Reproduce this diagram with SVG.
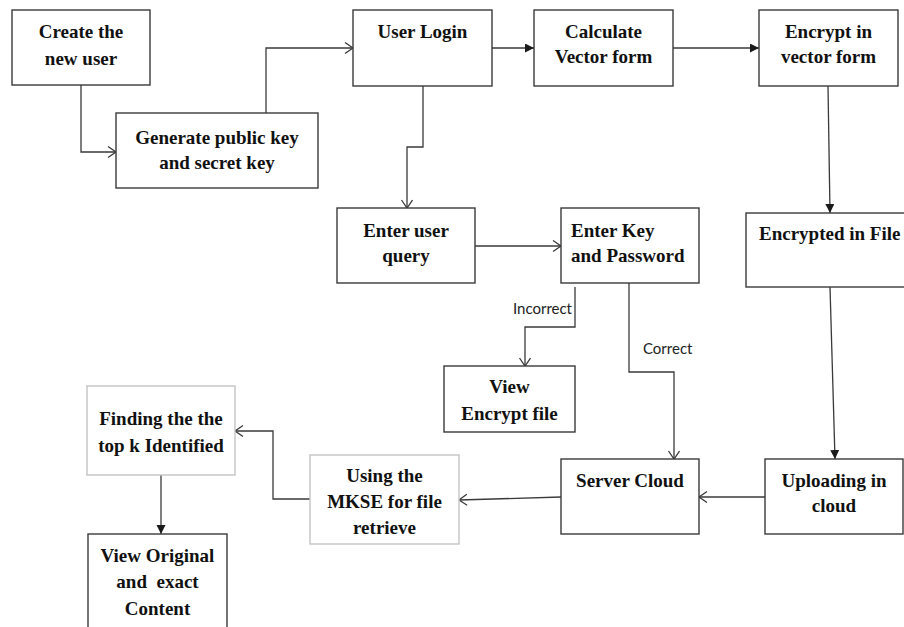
<svg xmlns="http://www.w3.org/2000/svg" width="904" height="627" viewBox="0 0 904 627">
<style>
.box{fill:#fff;stroke:#3a3a3a;stroke-width:1.4}
.lbox{fill:#fff;stroke:#c4c4c4;stroke-width:1.4}
.t{font-family:"Liberation Serif","Times New Roman",serif;font-weight:bold;font-size:19px;fill:#111;text-anchor:middle}
.ts{text-anchor:start}
.c{fill:none;stroke:#3a3a3a;stroke-width:1.3}
.o{marker-end:url(#open)}
.f{marker-end:url(#fill)}
.lab{font-family:Lato,"Liberation Sans",sans-serif;font-size:15px;fill:#222}
</style>
<defs>
<marker id="open" markerUnits="userSpaceOnUse" markerWidth="12" markerHeight="14" refX="9" refY="6" orient="auto">
<path d="M1,0.5 L9,6 L1,11.5" fill="none" stroke="#3a3a3a" stroke-width="1.3"/>
</marker>
<marker id="fill" markerUnits="userSpaceOnUse" markerWidth="12" markerHeight="12" refX="9" refY="4.5" orient="auto">
<path d="M0,0 L9,4.5 L0,9 z" fill="#1a1a1a"/>
</marker>
</defs>
<rect width="904" height="627" fill="#fff"/>
<g id="connectors">
<path class="c o" d="M81,85 V152 H116"/>
<path class="c o" d="M266,113 V48 H353"/>
<path class="c f" d="M492,48 H534"/>
<path class="c f" d="M673,48 H759"/>
<path class="c o" d="M423,86 V147 H407 V208"/>
<path class="c f" d="M828,86 L830,213"/>
<path class="c o" d="M475,246 H561"/>
<path class="c o" d="M575,287 V327 H525 V366"/>
<path class="c o" d="M629,283 V372 H674 V459"/>
<path class="c f" d="M830,287 L835,459"/>
<path class="c o" d="M765,497 H699"/>
<path class="c o" d="M561,497 L459,500"/>
<path class="c o" d="M310,499 H273 V431 H235"/>
<path class="c f" d="M161,475 V534"/>
<text class="lab" x="572" y="314" text-anchor="end">Incorrect</text>
<text class="lab" x="643" y="354">Correct</text>
</g>
<g id="create">
<rect class="box" x="12" y="10" width="138" height="75"/>
<text class="t" x="81" y="38">Create the</text>
<text class="t" x="81" y="65">new user</text>
</g>
<g id="generate">
<rect class="box" x="116" y="113" width="202" height="75"/>
<text class="t" x="217" y="144">Generate public key</text>
<text class="t" x="217" y="169">and secret key</text>
</g>
<g id="login">
<rect class="box" x="353" y="10" width="139" height="76"/>
<text class="t" x="422.5" y="38">User Login</text>
</g>
<g id="calculate">
<rect class="box" x="534" y="10" width="139" height="76"/>
<text class="t" x="603.5" y="38">Calculate</text>
<text class="t" x="603.5" y="63">Vector form</text>
</g>
<g id="encrypt">
<rect class="box" x="759" y="10" width="139" height="76"/>
<text class="t" x="828.5" y="38">Encrypt in</text>
<text class="t" x="828.5" y="63">vector form</text>
</g>
<g id="query">
<rect class="box" x="337" y="208" width="138" height="75"/>
<text class="t" x="406" y="237">Enter user</text>
<text class="t" x="406" y="262">query</text>
</g>
<g id="keypass">
<rect class="box" x="561" y="208" width="138" height="75"/>
<text class="t ts" x="571" y="237">Enter Key</text>
<text class="t ts" x="571" y="262">and Password</text>
</g>
<g id="encfile">
<rect class="box" x="746" y="213" width="170" height="74"/>
<text class="t ts" x="759" y="240">Encrypted in File</text>
</g>
<g id="viewenc">
<rect class="box" x="444" y="366" width="131" height="66"/>
<text class="t" x="509.5" y="393">View</text>
<text class="t" x="509.5" y="420">Encrypt file</text>
</g>
<g id="server">
<rect class="box" x="561" y="459" width="138" height="75"/>
<text class="t" x="630" y="487">Server Cloud</text>
</g>
<g id="upload">
<rect class="box" x="765" y="459" width="138" height="75"/>
<text class="t" x="834" y="487">Uploading in</text>
<text class="t" x="834" y="512">cloud</text>
</g>
<g id="mkse">
<rect class="lbox" x="310" y="455" width="149" height="89"/>
<text class="t" x="384.5" y="482">Using the</text>
<text class="t" x="384.5" y="508">MKSE for file</text>
<text class="t" x="384.5" y="534">retrieve</text>
</g>
<g id="finding">
<rect class="lbox" x="87" y="386" width="148" height="89"/>
<text class="t" x="161" y="425">Finding the the</text>
<text class="t" x="161" y="452">top k Identified</text>
</g>
<g id="vieworig">
<rect class="box" x="88" y="534" width="139" height="110"/>
<text class="t" x="157.5" y="562">View Original</text>
<text class="t" x="157.5" y="588" xml:space="preserve">and  exact</text>
<text class="t" x="157.5" y="615">Content</text>
</g>
</svg>
